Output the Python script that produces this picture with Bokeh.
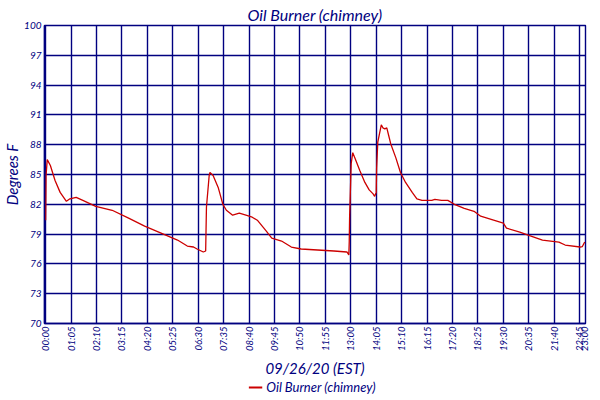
import math
from bokeh.plotting import figure
from bokeh.layouts import column
from bokeh.models import Range1d, FixedTicker, Legend, LegendItem
from bokeh.embed import file_html
from bokeh.resources import INLINE

# ---- data (minutes since 00:00, degrees F) ----
minutes = [0, 1, 4, 12, 24, 37, 53, 62, 78, 95, 128, 170, 212, 253, 295, 337,
           362, 378, 387, 403, 409, 411, 418, 420, 428, 441, 453, 462, 478, 495,
           512, 528, 541, 562, 578, 603, 628, 653, 695, 737, 770, 775, 776, 777,
           779, 781, 785, 791, 803, 816, 827, 837, 841, 845, 846, 849, 858, 862,
           867, 872, 877, 882, 895, 907, 920, 937, 949, 962, 987, 995, 1012, 1028,
           1045, 1070, 1095, 1112, 1145, 1170, 1178, 1212, 1237, 1270, 1312, 1328,
           1366, 1372, 1378]
temps = [80.4, 84.9, 86.5, 85.9, 84.4, 83.2, 82.3, 82.55, 82.7, 82.4, 81.8, 81.4,
         80.6, 79.8, 79.1, 78.4, 77.8, 77.7, 77.5, 77.2, 77.3, 81.7, 84.9, 85.2,
         84.9, 83.7, 82.0, 81.4, 80.9, 81.1, 80.9, 80.7, 80.4, 79.4, 78.6, 78.3,
         77.7, 77.5, 77.4, 77.3, 77.2, 76.9, 78.2, 80.8, 83.4, 86.1, 87.2, 86.6,
         85.4, 84.2, 83.45, 83.05, 82.8, 83.2, 85.6, 88.25, 90.0, 89.7, 89.6, 89.7,
         88.9, 88.1, 86.7, 85.2, 84.2, 83.2, 82.55, 82.4, 82.4, 82.5, 82.4, 82.4,
         82.0, 81.6, 81.3, 80.8, 80.4, 80.1, 79.6, 79.2, 78.85, 78.4, 78.2, 77.9,
         77.7, 77.75, 78.2]

x_tick_pos = [0, 65, 130, 195, 260, 325, 390, 455, 520, 585, 650, 715, 780, 845,
              910, 975, 1040, 1105, 1170, 1235, 1300, 1365, 1380]
x_tick_labels = ["00:00", "01:05", "02:10", "03:15", "04:20", "05:25", "06:30",
                 "07:35", "08:40", "09:45", "10:50", "11:55", "13:00", "14:05",
                 "15:10", "16:15", "17:20", "18:25", "19:30", "20:35", "21:40",
                 "22:45", "23:00"]
y_ticks = [70, 73, 76, 79, 82, 85, 88, 91, 94, 97, 100]
series_name = "Oil Burner (chimney)"

NAVY = "#000080"
RED = "#cc0000"
FONT = "Lato"

p = figure(frame_width=541, frame_height=298, output_backend="svg",
           toolbar_location=None,
           x_range=Range1d(-3, 1380), y_range=Range1d(70, 100),
           min_border_left=0, min_border_right=4, min_border_top=0,
           min_border_bottom=54, background_fill_color="white",
           border_fill_color="white")

p.title.text = series_name
p.title.align = "center"
p.title.text_font = FONT
p.title.text_font_style = "italic"
p.title.text_font_size = "16px"
p.title.text_color = NAVY
p.title.standoff = 4

line = p.line(minutes, temps, line_color=RED, line_width=1.3)

p.xaxis.ticker = FixedTicker(ticks=x_tick_pos)
p.xaxis.major_label_overrides = {t: l for t, l in zip(x_tick_pos, x_tick_labels)}
p.xaxis.major_label_orientation = math.pi / 2
p.yaxis.ticker = FixedTicker(ticks=y_ticks)
p.xgrid.ticker = FixedTicker(ticks=x_tick_pos)
p.ygrid.ticker = FixedTicker(ticks=y_ticks)

for g in (p.xgrid, p.ygrid):
    g.grid_line_color = NAVY
    g.grid_line_width = 1.4
    g.grid_line_alpha = 1

for ax in (p.xaxis, p.yaxis):
    ax.axis_line_color = NAVY
    ax.axis_line_width = 1.4
    ax.major_tick_line_color = None
    ax.minor_tick_line_color = None
    ax.major_tick_out = 0
    ax.major_tick_in = 0
    ax.minor_tick_out = 0
    ax.major_label_text_color = NAVY
    ax.major_label_text_font = FONT
    ax.major_label_text_font_style = "italic"
    ax.axis_label_text_color = NAVY
    ax.axis_label_text_font = FONT
    ax.axis_label_text_font_style = "italic"
    ax.axis_label_text_font_size = "15px"

p.xaxis.major_label_text_font_size = "9.5px"
p.yaxis.major_label_text_font_size = "10px"
p.xaxis.axis_label = "09/26/20 (EST)"
p.yaxis.axis_label = "Degrees F"
p.xaxis.major_label_standoff = 3
p.yaxis.major_label_standoff = 3
p.xaxis.axis_label_standoff = 5
p.yaxis.axis_label_standoff = 0

p.outline_line_color = NAVY
p.outline_line_width = 1.4

# ---- legend strip below the chart ----
lg = figure(width=584, height=15, output_backend="svg", toolbar_location=None,
            x_axis_location=None, y_axis_location=None,
            x_range=Range1d(0, 1), y_range=Range1d(0, 1), min_border=0,
            background_fill_color="white", border_fill_color="white")
lg.grid.visible = False
lg.outline_line_color = None
# key glyph for the legend; its points lie outside this strip's ranges
key = lg.line(x=[5, 6], y=[5, 6], line_color=RED, line_width=2)

legend = Legend(items=[LegendItem(label=series_name, renderers=[key])],
                orientation="horizontal", location="center")
legend.label_text_font = FONT
legend.label_text_font_style = "italic"
legend.label_text_font_size = "13px"
legend.label_text_color = NAVY
legend.border_line_color = None
legend.background_fill_alpha = 0
legend.glyph_width = 14
legend.glyph_height = 12
legend.label_height = 12
legend.padding = 0
legend.margin = 0
legend.spacing = 0
legend.label_standoff = 4
lg.add_layout(legend, "center")

layout = column(p, lg, spacing=0)
open("out.html", "w").write(file_html(layout, INLINE))
